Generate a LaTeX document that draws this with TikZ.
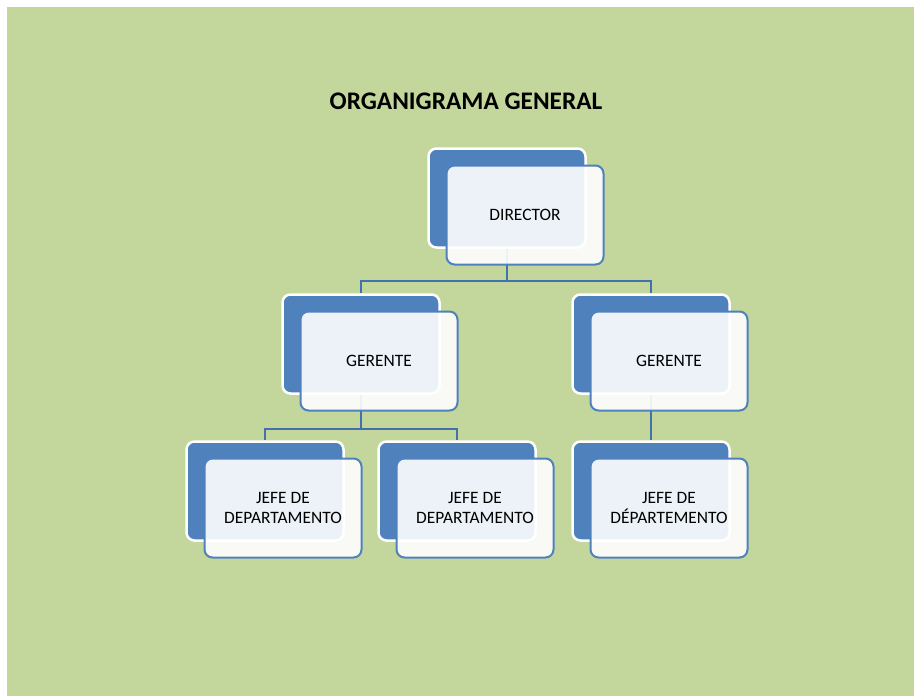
\documentclass[tikz,border=0pt]{standalone}
\usepackage{fontspec}
\setmainfont{Carlito}
\usepackage{tikz}
\usetikzlibrary{backgrounds}
\definecolor{slidegreen}{HTML}{C3D69B}
\definecolor{boxblue}{HTML}{4F81BD}
\definecolor{linkblue}{HTML}{4271AD}
\tikzset{
 backbox/.style={rectangle, rounded corners=8pt, draw=white, line width=2.5pt, fill=boxblue, minimum width=157pt, minimum height=99pt},
 frontbox/.style={rectangle, rounded corners=8pt, draw=boxblue, line width=2pt, fill=white, fill opacity=.9, text opacity=1, minimum width=157pt, minimum height=99pt, align=center, font=\fontsize{17.4}{20.5}\selectfont},
 link/.style={linkblue, line width=2.2pt},
}

\begin{document}
\begin{tikzpicture}[x=1pt,y=-1pt]
\useasboundingbox (0,0) rectangle (917,697);
\node[font=\bfseries\fontsize{25.3}{30}\selectfont] (title) at (466,101.5) {ORGANIGRAMA GENERAL};
\foreach \n/\x/\y/\t in {dir/507/198/DIRECTOR, g1/361/344/GERENTE, g2/651/344/GERENTE,
 j1/265/491/{JEFE DE\\DEPARTAMENTO}, j2/457/491/{JEFE DE\\DEPARTAMENTO}, j3/651/491/{JEFE DE\\DÉPARTEMENTO}} {
 \node[backbox] (b\n) at (\x,\y) {};
 \node[frontbox] (\n) at ([shift={(18,17)}]b\n.center) {\t};
}
\begin{scope}[on background layer]
\fill[slidegreen] (7,7) rectangle (914,696);
\draw[link] (bdir.south) -- ++(0,32) -| (bg1.north);
\draw[link] (bdir.south) -- ++(0,32) -| (bg2.north);
\draw[link] (bg1.south) -- ++(0,34.5) -| (bj1.north);
\draw[link] (bg1.south) -- ++(0,34.5) -| (bj2.north);
\draw[link] (bg2.south) -- (bj3.north);
\end{scope}
\end{tikzpicture}
\end{document}
